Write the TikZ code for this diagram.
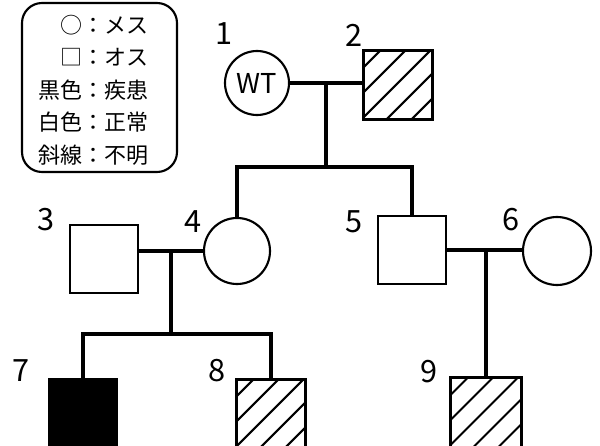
\documentclass[tikz,border=0pt]{standalone}
\usepackage{fontspec}
\setmainfont{Noto Sans CJK JP}
\begin{document}
\begin{tikzpicture}[x=0.75pt,y=-0.75pt,
  conn/.style={line width=2.3pt},
  male/.style={draw,line width=1.6pt,rectangle,minimum size=51pt,inner sep=0pt},
  female/.style={draw,line width=1.6pt,circle,minimum size=49.5pt,inner sep=0pt},
  num/.style={font=\fontsize{23}{23}\selectfont,inner sep=0pt},
  legtext/.style={font=\fontsize{16.5}{16.5}\selectfont,anchor=east,inner sep=0pt},
  hatchline/.style={line width=1.5pt}]
\useasboundingbox (0,0) rectangle (600,446);

% legend
\draw[line width=1.6pt,rounded corners=15] (22,3) rectangle (177,172);
\node[legtext] (l1) at (149,25) {○：メス};
\node[legtext] (l2) at (149,57) {□：オス};
\node[legtext] (l3) at (149,90) {黒色：疾患};
\node[legtext] (l4) at (149,122) {白色：正常};
\node[legtext] (l5) at (149,155) {斜線：不明};

% individuals
\node[female,minimum size=48pt,font=\fontsize{20.5}{20.5}\selectfont] (n1) at (257,83) {WT};
\node[male] (n2) at (398,85) {};
\node[male] (n3) at (104,259) {};
\node[female] (n4) at (237,251) {};
\node[male] (n5) at (412,250) {};
\node[female,minimum size=51pt] (n6) at (557,251) {};
\node[male,fill=black] (n7) at (83,413) {};
\node[male] (n8) at (271,414) {};
\node[male,minimum size=52pt] (n9) at (486,413) {};

% hatching of unknown individuals, outline redrawn on top
\foreach \n in {n2,n8,n9}{
  \begin{scope}
    \clip (\n.north west) rectangle (\n.south east);
    \foreach \c in {18,43,68,93,118}
      \draw[hatchline] (\n.north west) ++(\c,0) -- ++(-\c,\c);
  \end{scope}
  \draw[line width=1.6pt] (\n.north west) rectangle (\n.south east);
}

% numbers
\node[num] (t1) at (224,34) {1};
\node[num] (t2) at (354,35) {2};
\node[num] (t3) at (46,220) {3};
\node[num] (t4) at (193,222) {4};
\node[num] (t5) at (354,222) {5};
\node[num] (t6) at (511,220) {6};
\node[num] (t7) at (21,371) {7};
\node[num] (t8) at (217,371) {8};
\node[num] (t9) at (429,372) {9};

% family lines
\coordinate (m12) at (326,83);
\coordinate (s12) at (326,167);
\coordinate (m34) at (171,251);
\coordinate (s34) at (171,334);
\coordinate (m56) at (486,250);

\draw[conn] (n1.east) -- (n1.east -| n2.west);
\draw[conn] (m12) -- (s12);
\draw[conn] (n4.north) -- (n4.north |- s12) -- (n5.north |- s12) -- (n5.north);

\draw[conn] (n4.west) -- (n4.west -| n3.east);
\draw[conn] (m34) -- (s34);
\draw[conn] (n7.north) -- (n7.north |- s34) -- (n8.north |- s34) -- (n8.north);

\draw[conn] (n5.east) -- (n5.east -| n6.west);
\draw[conn] (m56) -- (n9.north);
\end{tikzpicture}
\end{document}
